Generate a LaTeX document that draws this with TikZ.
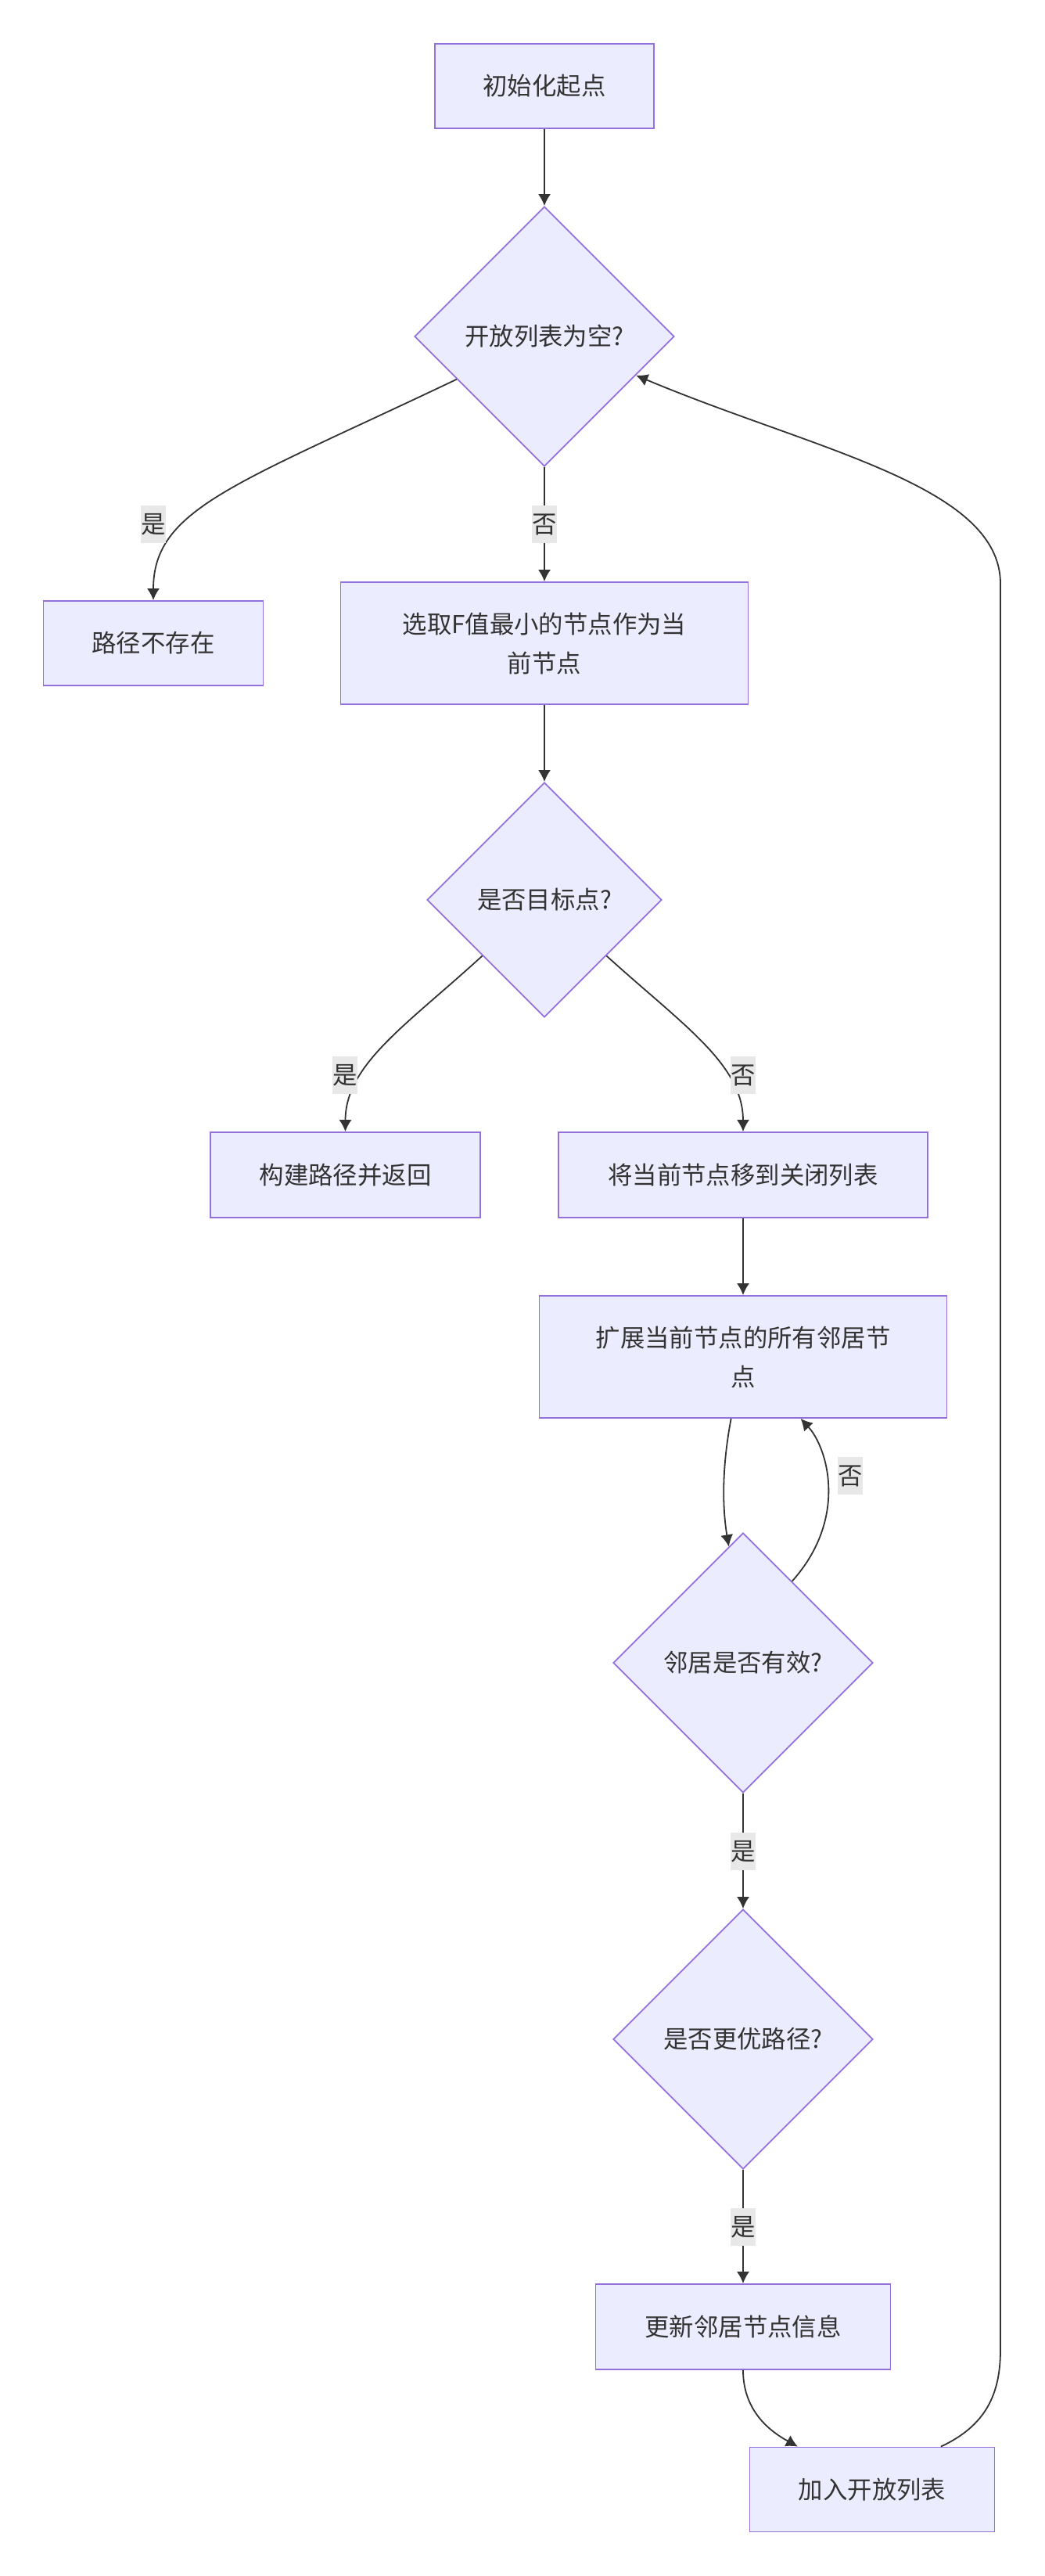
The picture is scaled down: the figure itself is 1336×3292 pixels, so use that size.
\documentclass[tikz,border=0pt]{standalone}
\usepackage{fontspec}
\setmainfont{Noto Sans CJK SC}
\usetikzlibrary{shapes.geometric,arrows.meta}
\definecolor{boxfill}{HTML}{ECECFF}
\definecolor{boxline}{HTML}{9370DB}
\definecolor{ink}{HTML}{333333}
\definecolor{lblfill}{HTML}{E8E8E8}
\tikzset{
  stepbox/.style={draw=boxline,fill=boxfill,line width=0.9pt,text=ink,align=center,inner sep=0pt,font=\fontsize{15.7}{25}\selectfont},
  askbox/.style={draw=boxline,fill=boxfill,line width=0.9pt,text=ink,diamond,inner sep=0pt,font=\fontsize{15.7}{25}\selectfont},
  lbl/.style={fill=lblfill,text=ink,inner sep=0pt,minimum height=24pt,font=\fontsize{15.7}{25}\selectfont},
  flow/.style={->,>={Latex[length=7.5pt,width=8pt]},line width=0.9pt,draw=ink}
}
\begin{document}
\begin{tikzpicture}[x=0.5pt,y=-0.5pt]
\fill[white] (0,0) rectangle (1336,3292);
\node[stepbox,minimum width=140pt,minimum height=54pt] (P0) at (696,110) {初始化起点};
\node[askbox,minimum width=166pt,minimum height=166pt] (D0) at (696,430) {开放列表为空?};
\node[stepbox,minimum width=140.5pt,minimum height=54pt] (P1) at (196,822) {路径不存在};
\node[stepbox,minimum width=260.5pt,minimum height=78pt] (P2) at (696,822) {选取F值最小的节点作为当\\前节点};
\node[askbox,minimum width=150pt,minimum height=150pt] (D1) at (696,1150) {是否目标点?};
\node[stepbox,minimum width=172.5pt,minimum height=54.5pt] (P3) at (441.5,1501.5) {构建路径并返回};
\node[stepbox,minimum width=236pt,minimum height=54.5pt] (P4) at (950,1501.5) {将当前节点移到关闭列表};
\node[stepbox,minimum width=260.5pt,minimum height=78pt] (P5) at (950,1734) {扩展当前节点的所有邻居节\\点};
\node[askbox,minimum width=166pt,minimum height=166pt] (D2) at (950,2125) {邻居是否有效?};
\node[askbox,minimum width=166pt,minimum height=166pt] (D3) at (950,2606) {是否更优路径?};
\node[stepbox,minimum width=188.5pt,minimum height=54.5pt] (P6) at (950,2973.5) {更新邻居节点信息};
\node[stepbox,minimum width=156.5pt,minimum height=54pt] (P7) at (1115,3181.5) {加入开放列表};
\draw[flow] (P0) -- (D0);
\draw[flow] (D0.206) .. controls (300,620) and (196,650) .. (P1.north);
\draw[flow] (D0) -- (P2);
\draw[flow] (P2) -- (D1);
\draw[flow] (D1.222) .. controls (520,1310) and (441.5,1360) .. (P3.north);
\draw[flow] (D1.318) .. controls (873,1310) and (950,1360) .. (P4.north);
\draw[flow] (P4) -- (P5);
\draw[flow] (P5.259) .. controls (922,1880) and (924,1930) .. (D2.97);
\draw[flow] (D2.59) .. controls (1085,1940) and (1058,1850) .. (P5.-47);
\draw[flow] (D2) -- (D3);
\draw[flow] (D3) -- (P6);
\draw[flow] (P6.south) .. controls (950,3085) and (990,3110) .. (P7.150);
\draw[flow] (P7.32) .. controls (1260,3100) and (1279,3060) .. (1279,3003) -- (1279,746) .. controls (1279,620) and (1040,575) .. (D0.-23);
\node[lbl] (L0) at (196,670) {是};
\node[lbl] (L1) at (696,670) {否};
\node[lbl] (L2) at (441,1374) {是};
\node[lbl] (L3) at (950,1374) {否};
\node[lbl] (L4) at (1087,1886) {否};
\node[lbl] (L5) at (950,2366) {是};
\node[lbl] (L6) at (950,2846) {是};
\end{tikzpicture}
\end{document}
